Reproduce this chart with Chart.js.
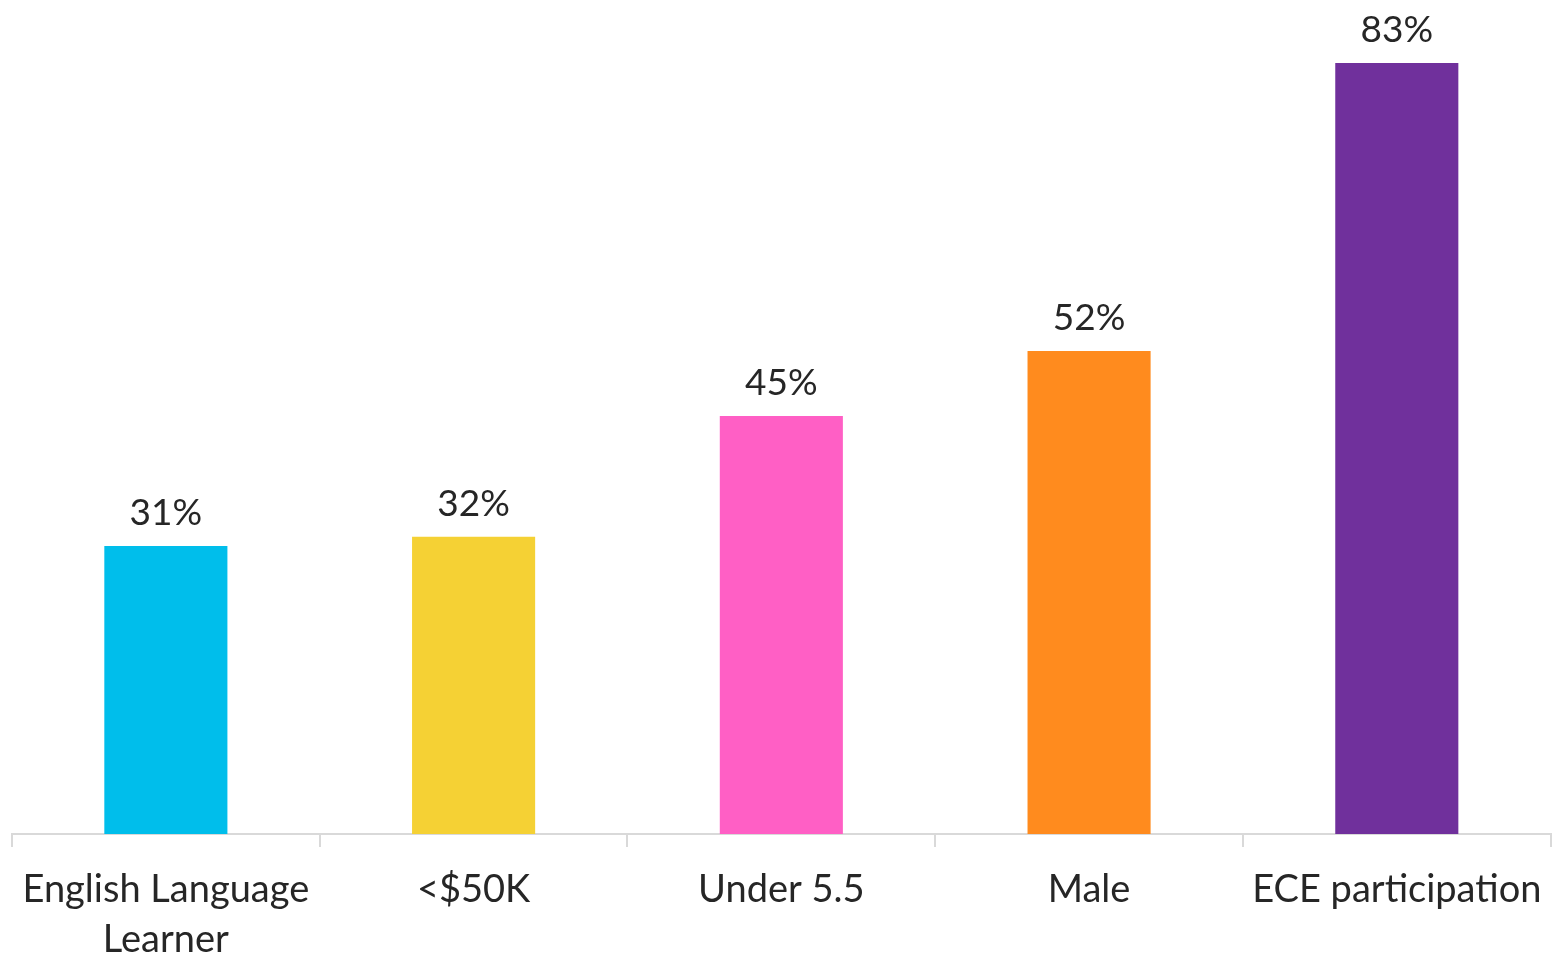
<!DOCTYPE html>
<html>
<head>
<meta charset="utf-8">
<script src="https://cdn.jsdelivr.net/npm/chart.js@4"></script>
<style>
  html, body { margin: 0; padding: 0; background: #fff; }
  #wrap { width: 1560px; height: 959px; }
</style>
</head>
<body>
<div id="wrap"><canvas id="chart"></canvas></div>
<script>
const categorias = [['English Language', 'Learner'], '<$50K', 'Under 5.5', 'Male', 'ECE participation'];
const valores = [31, 32, 45, 52, 83];
const cores = ['#00BEEB', '#F5D134', '#FF5FC5', '#FF8B1E', '#70309C'];

const fonte = 'Lato, "Open Sans", sans-serif';

// Rótulos de valor acima de cada barra
const rotulosPlugin = {
    id: 'rotulos',
    afterDatasetsDraw(chart) {
        const ctx = chart.ctx;
        const meta = chart.getDatasetMeta(0);
        ctx.save();
        ctx.font = '37px ' + fonte;
        ctx.fillStyle = '#262626';
        ctx.textAlign = 'center';
        ctx.textBaseline = 'middle';
        meta.data.forEach((bar, i) => {
            ctx.fillText(valores[i] + '%', bar.x, bar.y - 33);
        });
        ctx.restore();
    }
};

const ctx = document.getElementById('chart').getContext('2d');
new Chart(ctx, {
    type: 'bar',
    data: {
        labels: categorias,
        datasets: [{
            data: valores,
            backgroundColor: cores,
            barPercentage: 0.8,
            categoryPercentage: 0.5,
        }],
    },
    options: {
        responsive: true,
        maintainAspectRatio: false,
        animation: false,
        layout: { padding: { left: 12, right: 6, top: 10, bottom: 0 } },
        plugins: {
            legend: { display: false },
            tooltip: { enabled: false },
        },
        scales: {
            x: {
                // a segunda linha do rótulo fica parcialmente fora da tela, como no original
                afterFit: (escala) => { escala.height = escala.height - 24; },
                grid: {
                    display: true,
                    drawOnChartArea: false,
                    tickLength: 13,
                    color: '#D9D9D9',
                    lineWidth: 2,
                },
                border: { color: '#D9D9D9', width: 2 },
                ticks: {
                    color: '#262626',
                    padding: 18,
                    maxRotation: 0,
                    autoSkip: false,
                    font: { family: fonte, size: 38, lineHeight: 1.316 },
                },
            },
            y: {
                display: false,
                min: 0,
                max: 88.7,
            },
        },
    },
    plugins: [rotulosPlugin],
});
</script>
</body>
</html>
